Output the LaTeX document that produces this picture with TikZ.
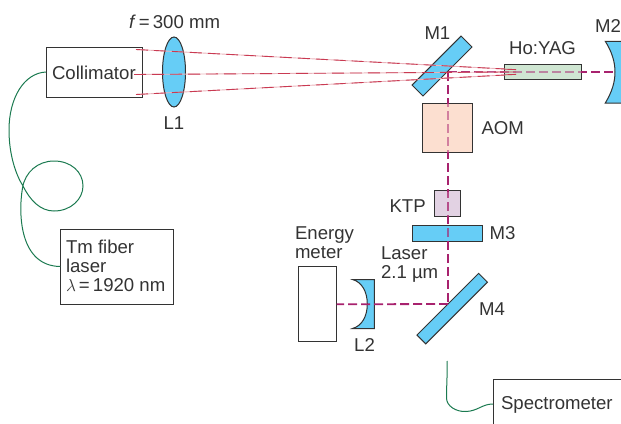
\documentclass[tikz,border=0pt]{standalone}
\usepackage{fontspec}
\setmainfont{Liberation Sans}
\usetikzlibrary{shapes.geometric}
\definecolor{optblue}{HTML}{66CDF6}
\definecolor{ink}{HTML}{333333}
\definecolor{fibre}{HTML}{1B7A50}
\definecolor{pumpred}{HTML}{C93A52}
\definecolor{pumppale}{HTML}{EBB4BC}
\definecolor{lasermag}{HTML}{A8226E}
\definecolor{aomfill}{HTML}{FCDFD0}
\definecolor{yagfill}{HTML}{CFE6D2}
\definecolor{ktpfill}{HTML}{E2D2E3}
\tikzset{
  lbl/.style={font=\fontsize{18.6}{20}\selectfont, text=ink, inner sep=0pt, outer sep=0pt},
  boxed/.style={draw=ink, line width=1pt, rectangle, inner sep=0pt, outer sep=0pt},
  mirror/.style={boxed, fill=optblue, rotate=45},
  fibreline/.style={draw=fibre, line width=1pt},
  pumpunder/.style={draw=pumppale, line width=.9pt},
  pumpbeam/.style={draw=pumpred, line width=.9pt, dash pattern=on 12pt off 6pt},
  laserbeam/.style={draw=lasermag, line width=1.8pt, dash pattern=on 9pt off 4pt},
  curved/.style={draw=ink, fill=optblue, line width=1pt},
  veil/.style={fill opacity=.5},
}
\begin{document}
\begin{tikzpicture}[x=1pt,y=-1pt]
\useasboundingbox (0,0) rectangle (621,423);
\clip (0,0) rectangle (621,423);
% beam end points
\coordinate (p1a) at (136,49.5); \coordinate (p1b) at (505,69);
\coordinate (p2a) at (134,74.5); \coordinate (p2b) at (505,72);
\coordinate (p3a) at (136,94.5); \coordinate (p3b) at (505,75);
\coordinate (turn) at (448,72);
\coordinate (m2hit) at (615,72);
\coordinate (m4hit) at (448,304);
\coordinate (fibrefree) at (447,361);
% crystals
\node[boxed, fill=aomfill, minimum width=50.4pt, minimum height=49pt] (aom) at (447.5,127.8) {};
\node[boxed, fill=yagfill, minimum width=77.4pt, minimum height=15.5pt] (yag) at (543,72.2) {};
\node[boxed, fill=ktpfill, minimum width=25.6pt, minimum height=25.3pt] (ktp) at (447.5,203.6) {};
% mirrors, lens and boxes
\node[mirror, minimum width=69.3pt, minimum height=15.5pt] (m1) at (442,66) {};
\node[mirror, minimum width=87.2pt, minimum height=12.4pt] (m4) at (452.2,308.6) {};
\node[boxed, fill=optblue, minimum width=69.3pt, minimum height=16pt] (m3) at (447.4,233.3) {};
\node[boxed, ellipse, fill=optblue, minimum width=23pt, minimum height=70pt] (l1) at (174,72) {};
\path[curved] (605.3,41.3) .. controls (612,52) and (615,62) .. (615,72) .. controls (615,82) and (612,92) .. (605.3,103) -- (630,103) -- (630,41.3) -- cycle;
\path[curved] (352.5,279.5) -- (374.3,279.5) -- (374.3,328.5) -- (352.5,328.5) .. controls (362,326) and (367.3,316) .. (367.3,304) .. controls (367.3,292) and (362,282) .. (352.5,279.5) -- cycle;
\node[boxed, minimum width=96pt, minimum height=50pt] (coll) at (94,72) {};
\node[boxed, fill=white, minimum width=38pt, minimum height=75.3pt] (meter) at (317.7,304.3) {};
\node[boxed, minimum width=113.4pt, minimum height=75pt] (tm) at (117,266.5) {};
\node[boxed, minimum width=150pt, minimum height=70pt] (spec) at (568,414) {};
% laser beam
\draw[laserbeam] (turn) -- (m2hit);
\draw[laserbeam] (m4hit) -- (meter.east);
\draw[laserbeam, line cap=butt] (turn) -- (m4hit);
% crystals and M3 veil the beam that runs through them
\fill[aomfill, veil] ([shift={(.6,.6)}]aom.north west) rectangle ([shift={(-.6,-.6)}]aom.south east);
\fill[yagfill, veil] ([shift={(.6,.6)}]yag.north west) rectangle ([shift={(-.6,-.6)}]yag.south east);
\fill[ktpfill, fill opacity=.25] ([shift={(.6,.6)}]ktp.north west) rectangle ([shift={(-.6,-.6)}]ktp.south east);
\fill[optblue, fill opacity=.35] ([shift={(.6,.6)}]m3.north west) rectangle ([shift={(-.6,-.6)}]m3.south east);
% pump beams
\draw[pumpunder] (p1a) -- (p1b); \draw[pumpbeam] (p1a) -- (p1b);
\draw[pumpunder] (p2a) -- (p2b); \draw[pumpbeam] (p2a) -- (p2b);
\draw[pumpunder] (p3a) -- (p3b); \draw[pumpbeam] (p3a) -- (p3b);
\draw[draw=pumpred, line width=.9pt] (505,69.2) -- (516,69.6) (505,72) -- (516,72) (505,74.8) -- (516,74.4);
% fibres
\draw[fibreline] (coll.west) .. controls (24,73) and (9,98) .. (9,130)
  .. controls (9,155) and (16,175) .. (23,186)
  .. controls (30,200) and (40,211) .. (54,211)
  .. controls (71,211) and (83,199) .. (83,186)
  .. controls (83,172) and (71,161) .. (54,161)
  .. controls (38,161) and (25,172) .. (22.5,188)
  .. controls (18,215) and (20,266) .. (tm.west);
\draw[fibreline] (fibrefree) .. controls (447.5,375) and (446.5,385) .. (446.5,398)
  .. controls (446.5,406) and (456,412) .. (466,411.5)
  .. controls (478,411) and (482,404) .. (spec.west |- 0,404);
% labels
\node[lbl, anchor=base west] (tcoll) at (52,79) {Collimator};
\node[lbl, anchor=base west] (tf) at (129,28) {\textit{f}\,=\,300 mm};
\node[lbl, anchor=base] (tl1) at (174,129) {L1};
\node[lbl, anchor=base west] (tm1) at (424.5,39) {M1};
\node[lbl, anchor=base] (thy) at (542.5,54.5) {Ho:YAG};
\node[lbl, anchor=base west] (tm2) at (595,32) {M2};
\node[lbl, anchor=base west] (taom) at (481.5,134) {AOM};
\node[lbl, anchor=base west] (tktp) at (389.5,212) {KTP};
\node[lbl, anchor=base west] (tm3) at (489.5,239) {M3};
\node[lbl, anchor=base west] (ten) at (295,239) {Energy};
\node[lbl, anchor=base west] (tme) at (295,258) {meter};
\node[lbl, anchor=base west] (tla) at (381,259) {Laser};
\node[lbl, anchor=base west] (tum) at (381,278) {2.1 µm};
\node[lbl, anchor=base west] (tm4) at (479,315) {M4};
\node[lbl, anchor=base] (tl2) at (364.5,351) {L2};
\node[lbl, anchor=base west] (ttm) at (66,253) {Tm fiber};
\node[lbl, anchor=base west] (tlas) at (66,272) {laser};
\node[lbl, anchor=base west] (tlam) at (66,291) {$\lambda$\,=\,1920 nm};
\node[lbl, anchor=base west] (tsp) at (501,409) {Spectrometer};
\end{tikzpicture}
\end{document}
